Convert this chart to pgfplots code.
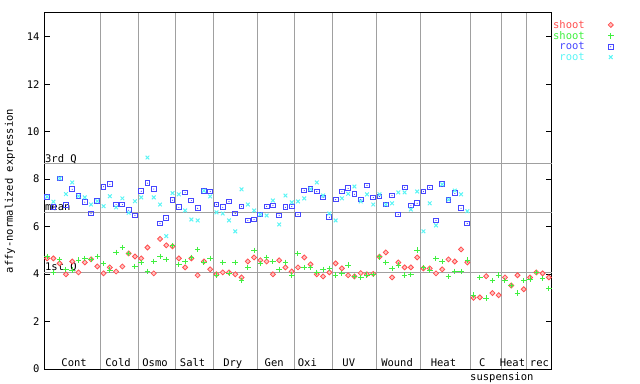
\documentclass[border=0pt]{standalone}
\usepackage{pgfplots}
\pgfplotsset{compat=1.18}
\usepackage{fontspec}
\newfontfamily\gp{DejaVu Sans Mono}
\definecolor{gpred}{RGB}{255,80,80}
\definecolor{gpgreen}{RGB}{64,240,64}
\definecolor{gpblue}{RGB}{70,70,255}
\definecolor{gpcyan}{RGB}{90,245,245}
\definecolor{gpgrid}{RGB}{160,160,160}
\newcommand{\gpf}{\gp\fontsize{10.5bp}{12bp}\selectfont}
\pgfdeclareplotmark{sqdot}{%
  \pgfpathrectangle{\pgfpoint{-\pgfplotmarksize}{-\pgfplotmarksize}}{\pgfpoint{2\pgfplotmarksize}{2\pgfplotmarksize}}%
  \pgfusepathqstroke
  \pgfpathcircle{\pgfpointorigin}{0.6bp}\pgfusepathqfill}
\pgfdeclareplotmark{gpdiamond}{%
  \pgfpathmoveto{\pgfpoint{0pt}{\pgfplotmarksize}}%
  \pgfpathlineto{\pgfpoint{\pgfplotmarksize}{0pt}}%
  \pgfpathlineto{\pgfpoint{0pt}{-\pgfplotmarksize}}%
  \pgfpathlineto{\pgfpoint{-\pgfplotmarksize}{0pt}}%
  \pgfpathclose
  \pgfusepathqfillstroke}
\pgfplotsset{lgd/.style={legend image code/.code={%
  \path[draw=none,fill=none] (0bp,0bp) -- (24bp,0bp);
  \draw[mark repeat=1,##1] plot coordinates {(24bp,0bp)};}}}
\begin{document}
\begin{tikzpicture}
\path[use as bounding box] (0,0) rectangle (640bp,384bp);
\begin{axis}[
  at={(44bp,15bp)}, anchor=south west, scale only axis,
  width=508bp, height=356bp,
  xmin=-0.5, xmax=80.5, ymin=0, ymax=15,
  xtick=\empty, ytick={0,2,...,14},
  ytick pos=both, tick align=inside, major tick length=6bp,
  tick style={black, line width=0.8bp},
  axis line style={black, line width=1bp},
  extra x ticks={8.5,14.5,20.5,26.5,33.5,39.5,45.5,52.5,59.5,67.5,72.5,76.5},
  extra x tick labels={},
  extra x tick style={grid=major, major grid style={gpgrid, line width=0.9bp}, major tick length=0pt},
  /pgf/number format/assume math mode=true,
  yticklabel style={font=\gpf, xshift=-1bp},
  ylabel={affy-normalized expression},
  ylabel style={font=\gpf, at={(axis description cs:-0.067,0.5)}, anchor=center},
  clip=false,
  legend style={at={(axis description cs:0.998,0.986)}, anchor=north west, draw=none, fill=none,
    font=\gpf, inner sep=0pt, row sep=-2.4bp, cells={anchor=east}},
  legend plot pos=right,
]
\addplot[gpgrid, line width=0.9bp, forget plot] coordinates {(-0.5,8.67) (80.5,8.67)};
\addplot[gpgrid, line width=0.9bp, forget plot] coordinates {(-0.5,6.61) (80.5,6.61)};
\addplot[gpgrid, line width=0.9bp, forget plot] coordinates {(-0.5,4.08) (80.5,4.08)};
\node[font=\gpf, anchor=base west, inner sep=0pt] at (axis cs:-0.35,8.72) {3rd Q};
\node[font=\gpf, anchor=base west, inner sep=0pt] at (axis cs:-0.35,6.66) {mean};
\node[font=\gpf, anchor=base west, inner sep=0pt] at (axis cs:-0.35,4.13) {1st Q};

% shoot (red diamonds)
\addplot[only marks, lgd, mark=gpdiamond, mark size=2.5bp, mark options={draw=gpred, fill=gpred!35, line width=0.8bp}] coordinates {
(0,4.66)(1,4.66)(2,4.45)(3,3.99)(4,4.53)(5,4.07)(6,4.49)(7,4.62)(8,4.32)
(9,4.03)(10,4.28)(11,4.11)(12,4.32)(13,4.87)(14,4.74)
(15,4.66)(16,5.12)(17,4.03)(18,5.48)(19,5.21)(20,5.17)
(21,4.66)(22,4.28)(23,4.66)(24,3.95)(25,4.53)(26,4.20)
(27,3.99)(28,4.07)(29,4.07)(30,3.99)(31,3.86)(32,4.53)(33,4.70)
(34,4.58)(35,4.53)(36,3.99)(37,4.58)(38,4.28)(39,4.11)
(40,4.28)(41,4.70)(42,4.41)(43,3.99)(44,3.90)(45,4.07)
(46,4.45)(47,4.24)(48,3.95)(49,3.90)(50,4.04)(51,3.99)(52,4.01)
(53,4.73)(54,4.91)(55,3.86)(56,4.49)(57,4.28)(58,4.28)(59,4.70)
(60,4.24)(61,4.24)(62,4.03)(63,4.20)(64,4.62)(65,4.53)(66,5.04)(67,4.49)
(68,3.00)(69,3.02)(70,3.91)(71,3.20)(72,3.11)
(73,3.86)(74,3.52)(75,3.95)(76,3.36)
(77,3.86)(78,4.07)(79,4.03)(80,3.86)};
\addlegendentry{\textcolor{gpred}{shoot}}

% shoot (green plus)
\addplot[only marks, lgd, mark=+, mark size=2.8bp, mark options={draw=gpgreen, line width=1bp}] coordinates {
(0,4.74)(1,4.07)(2,4.62)(3,4.20)(4,4.16)(5,4.58)(6,4.66)(7,4.62)(8,4.74)
(9,4.45)(10,4.16)(11,4.91)(12,5.12)(13,4.87)(14,4.32)
(15,4.49)(16,4.11)(17,4.53)(18,4.74)(19,4.62)(20,5.21)
(21,4.41)(22,4.53)(23,4.70)(24,5.04)(25,4.49)(26,4.66)
(27,3.95)(28,4.49)(29,4.03)(30,4.49)(31,3.73)(32,4.28)(33,5.00)
(34,4.45)(35,4.70)(36,4.53)(37,4.20)(38,4.49)(39,3.95)
(40,4.87)(41,4.28)(42,4.28)(43,4.07)(44,4.20)(45,4.24)
(46,3.96)(47,4.03)(48,4.38)(49,3.89)(50,3.86)(51,3.96)(52,3.99)
(53,4.73)(54,4.49)(55,4.24)(56,4.38)(57,3.96)(58,3.99)(59,5.01)
(60,4.28)(61,4.16)(62,4.66)(63,4.53)(64,3.90)(65,4.11)(66,4.11)(67,4.58)
(68,3.11)(69,3.86)(70,2.98)(71,3.73)(72,3.96)
(73,3.73)(74,3.52)(75,3.20)(76,3.73)
(77,3.78)(78,4.07)(79,3.82)(80,3.40)};
\addlegendentry{\textcolor{gpgreen}{shoot}}

% root (blue squares)
\addplot[only marks, lgd, mark=sqdot, mark size=2.4bp, mark options={draw=gpblue, fill=gpblue, line width=1bp}] coordinates {
(0,7.26)(1,6.81)(2,8.03)(3,6.91)(4,7.57)(5,7.28)(6,7.03)(7,6.55)(8,7.07)
(9,7.68)(10,7.78)(11,6.93)(12,6.93)(13,6.69)(14,6.47)
(15,7.49)(16,7.83)(17,7.58)(18,6.13)(19,6.35)(20,7.11)
(21,6.81)(22,7.44)(23,7.10)(24,6.77)(25,7.51)(26,7.48)
(27,6.93)(28,6.81)(29,7.06)(30,6.55)(31,6.85)(32,6.26)(33,6.30)
(34,6.51)(35,6.85)(36,6.89)(37,6.47)(38,6.81)(39,6.85)
(40,6.51)(41,7.52)(42,7.58)(43,7.48)(44,7.23)(45,6.39)
(46,7.14)(47,7.48)(48,7.61)(49,7.36)(50,7.14)(51,7.73)(52,7.23)
(53,7.27)(54,6.93)(55,7.31)(56,6.51)(57,7.65)(58,6.89)(59,6.98)
(60,7.48)(61,7.65)(62,6.26)(63,7.78)(64,7.13)(65,7.40)(66,6.77)(67,6.13)};
\addlegendentry{\textcolor{gpblue}{root}}

% root (cyan crosses)
\addplot[only marks, lgd, mark=x, mark size=2.6bp, mark options={draw=gpcyan, line width=1bp}] coordinates {
(0,7.26)(1,7.05)(2,8.03)(3,7.37)(4,7.86)(5,7.28)(6,7.23)(7,6.93)(8,7.07)
(9,6.86)(10,7.28)(11,6.81)(12,7.19)(13,6.58)(14,7.07)
(15,7.23)(16,8.91)(17,7.23)(18,6.93)(19,5.60)(20,7.41)
(21,7.36)(22,6.68)(23,6.30)(24,6.26)(25,7.51)(26,7.27)
(27,6.60)(28,6.55)(29,6.26)(30,5.80)(31,7.57)(32,6.93)(33,6.68)
(34,6.51)(35,6.47)(36,7.10)(37,6.09)(38,7.31)(39,7.02)
(40,7.06)(41,7.19)(42,7.58)(43,7.86)(44,7.31)(45,6.55)
(46,6.26)(47,7.19)(48,7.38)(49,7.69)(50,7.06)(51,7.36)(52,6.93)
(53,7.36)(54,6.93)(55,6.98)(56,7.44)(57,7.44)(58,6.72)(59,7.48)
(60,5.80)(61,6.98)(62,6.05)(63,7.78)(64,7.14)(65,7.52)(66,7.36)(67,6.65)};
\addlegendentry{\textcolor{gpcyan}{root}}

% group labels
\node[font=\gpf, anchor=base, inner sep=0pt] at (axis cs:4.3,0.1) {Cont};
\node[font=\gpf, anchor=base, inner sep=0pt] at (axis cs:11.3,0.1) {Cold};
\node[font=\gpf, anchor=base, inner sep=0pt] at (axis cs:17.2,0.1) {Osmo};
\node[font=\gpf, anchor=base, inner sep=0pt] at (axis cs:23.2,0.1) {Salt};
\node[font=\gpf, anchor=base, inner sep=0pt] at (axis cs:29.6,0.1) {Dry};
\node[font=\gpf, anchor=base, inner sep=0pt] at (axis cs:36.2,0.1) {Gen};
\node[font=\gpf, anchor=base, inner sep=0pt] at (axis cs:41.5,0.1) {Oxi};
\node[font=\gpf, anchor=base, inner sep=0pt] at (axis cs:48.1,0.1) {UV};
\node[font=\gpf, anchor=base, inner sep=0pt] at (axis cs:55.8,0.1) {Wound};
\node[font=\gpf, anchor=base, inner sep=0pt] at (axis cs:63.2,0.1) {Heat};
\node[font=\gpf, anchor=base, inner sep=0pt] at (axis cs:69.4,0.1) {C};
\node[font=\gpf, anchor=base, inner sep=0pt] at (axis cs:74.2,0.1) {Heat};
\node[font=\gpf, anchor=base, inner sep=0pt] at (axis cs:78.5,0.1) {rec};
\node[font=\gpf, anchor=base, inner sep=0pt] at (axis cs:72.5,-0.47) {suspension};
\end{axis}
\end{tikzpicture}
\end{document}
